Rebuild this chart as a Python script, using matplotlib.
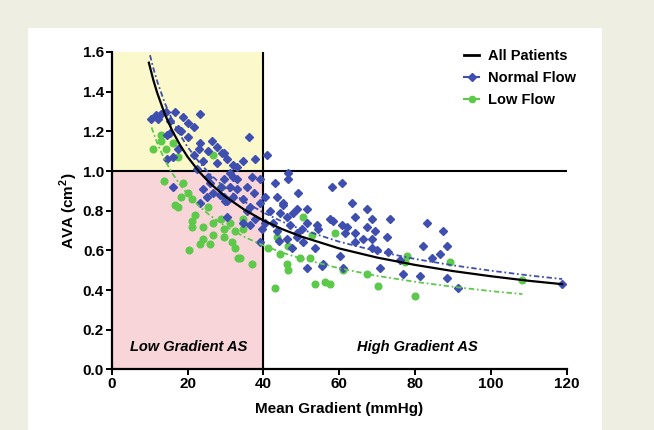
import matplotlib
matplotlib.use("Agg")
import matplotlib.pyplot as plt
from matplotlib.lines import Line2D
from matplotlib.patches import Rectangle

plt.rcParams["font.family"] = ["Liberation Sans", "DejaVu Sans"]
plt.rcParams["mathtext.fontset"] = "custom"
plt.rcParams["mathtext.rm"] = "Liberation Sans:bold"
plt.rcParams["mathtext.bf"] = "Liberation Sans:bold"

# scatter data (mean gradient mmHg, AVA cm2)
normal_mg = [10.3, 11.6, 12.9, 12.1, 14.2, 16.8, 23.4, 18.9, 20.0, 15.5, 17.4, 21.6, 18.2, 15.5, 14.7,
             20.0, 23.4, 22.9, 17.4, 27.9, 16.1, 14.7, 21.6, 25.3, 29.5, 30.5, 27.9, 24.2, 32.1, 22.6,
             25.3, 29.5, 32.1, 16.1, 24.2, 28.7, 31.3, 26.8, 29.5, 32.1, 30.5, 23.4,
             26.5, 29.1, 33.0, 31.2, 26.0, 33.0, 28.6, 25.1, 33.0, 30.5, 30.0,
             36.1, 34.7, 37.9, 41.0, 46.6, 46.6, 43.2, 49.2, 58.2, 37.1, 39.2, 35.8, 37.4, 40.5, 43.7,
             45.3, 34.7,
             39.2, 36.6, 45.3, 48.9, 51.6, 41.8, 46.3, 37.9, 34.7, 40.5, 58.4, 50.3, 54.5, 43.7, 48.9,
             39.7, 46.3, 50.5, 53.7, 47.6, 39.2, 51.6, 55.5,
             35.7, 44.4, 47.9, 36.5, 42.5, 47.0, 51.5, 54.2, 57.6, 44.0, 48.9,
             60.8, 63.4, 64.2, 67.4, 68.7, 73.4, 60.8, 62.1, 67.4, 69.5, 61.6, 64.2, 66.3, 64.2, 68.7,
             72.6, 83.2, 87.4, 88.4, 82.1, 68.7, 70.0, 72.9, 86.6, 84.5, 76.0, 60.3, 70.8, 76.8, 81.3,
             88.4, 91.3, 55.8, 61.0, 118.8]
normal_ava = [1.26, 1.28, 1.29, 1.26, 1.30, 1.30, 1.29, 1.27, 1.24, 1.25, 1.21, 1.22, 1.20, 1.19, 1.18,
              1.17, 1.14, 1.11, 1.11, 1.12, 1.07, 1.06, 1.08, 1.10, 1.09, 1.06, 1.04, 1.05, 1.03, 1.01,
              0.97, 0.96, 0.97, 0.92, 0.91, 0.92, 0.92, 0.89, 0.87, 0.87, 0.85, 0.84,
              1.15, 1.09, 1.02, 0.99, 0.94, 0.96, 0.88, 0.87, 0.91, 0.77, 0.85,
              1.17, 1.05, 1.06, 1.08, 0.99, 0.96, 0.94, 0.89, 0.92, 0.97, 0.96, 0.92, 0.89, 0.87, 0.87,
              0.84, 0.86,
              0.84, 0.82, 0.83, 0.81, 0.81, 0.80, 0.77, 0.76, 0.74, 0.74, 0.75, 0.71, 0.71, 0.70, 0.69,
              0.71, 0.66, 0.64, 0.61, 0.61, 0.64, 0.51, 0.52,
              0.80, 0.79, 0.79, 0.73, 0.74, 0.73, 0.74, 0.73, 0.76, 0.65, 0.67,
              0.94, 0.84, 0.77, 0.81, 0.76, 0.76, 0.73, 0.72, 0.72, 0.70, 0.69, 0.69, 0.66, 0.64, 0.66,
              0.67, 0.74, 0.70, 0.62, 0.62, 0.61, 0.60, 0.59, 0.58, 0.56, 0.55, 0.57, 0.51, 0.48, 0.47,
              0.46, 0.41, 0.53, 0.51, 0.43]

low_mg = [10.8, 12.9, 12.9, 14.2, 16.1, 17.4, 26.6, 13.7, 18.9, 28.7, 18.2, 20.0, 21.3, 16.8,
          17.4, 25.5, 22.1, 28.7, 21.3, 26.6, 31.3, 21.3, 24.2, 29.5, 32.6, 26.6, 29.5, 24.2, 23.4,
          26.0, 31.8, 32.6, 20.3, 33.4,
          34.7, 34.7, 50.5, 52.9, 43.7, 41.3, 46.6, 44.5, 49.7, 52.4, 46.3, 37.1, 46.6, 53.7, 56.3,
          43.2, 33.9,
          59.0, 57.5, 70.3, 80.0, 89.3, 78.0, 77.4, 67.4, 61.0, 108.3]
low_ava = [1.11, 1.18, 1.15, 1.11, 1.14, 1.07, 1.08, 0.95, 0.94, 0.92, 0.87, 0.89, 0.86, 0.83,
           0.82, 0.82, 0.78, 0.76, 0.75, 0.74, 0.74, 0.72, 0.72, 0.71, 0.70, 0.68, 0.67, 0.66, 0.63,
           0.63, 0.64, 0.61, 0.60, 0.56,
           0.76, 0.71, 0.77, 0.68, 0.67, 0.61, 0.62, 0.58, 0.56, 0.56, 0.53, 0.53, 0.50, 0.43, 0.44,
           0.41, 0.56,
           0.69, 0.43, 0.42, 0.37, 0.54, 0.57, 0.54, 0.48, 0.50, 0.45]

# fitted curves
all_fit_x = [9.8, 11, 12, 14, 16, 18, 20, 23, 26, 30, 35, 40, 45, 50, 60, 70, 80, 90, 100, 110, 118.8]
all_fit_y = [1.546, 1.457, 1.394, 1.287, 1.202, 1.132, 1.072, 0.998, 0.937, 0.871, 0.805, 0.751,
             0.707, 0.670, 0.610, 0.564, 0.527, 0.496, 0.470, 0.447, 0.430]
normal_fit_x = [10.1, 11, 12, 14, 16, 18, 20, 23, 26, 30, 35, 40, 45, 50, 60, 70, 80, 90, 100, 110, 118.8]
normal_fit_y = [1.584, 1.517, 1.452, 1.343, 1.256, 1.183, 1.122, 1.046, 0.983, 0.914, 0.846, 0.791,
                0.745, 0.706, 0.644, 0.596, 0.557, 0.525, 0.498, 0.474, 0.456]
low_fit_x = [10.5, 12, 14, 16, 18, 20, 23, 26, 30, 35, 40, 45, 50, 60, 70, 80, 90, 100, 108.3]
low_fit_y = [1.220, 1.141, 1.056, 0.988, 0.932, 0.884, 0.824, 0.775, 0.722, 0.668, 0.625, 0.589,
             0.559, 0.510, 0.472, 0.442, 0.417, 0.395, 0.380]

blue = "#3f4fb0"
green = "#5dc94a"

fig = plt.figure(figsize=(6.54, 4.30), dpi=100)
fig.patch.set_facecolor("#efeee3")
panel = Rectangle((28 / 654, 0), 574 / 654, 402 / 430, transform=fig.transFigure,
                  facecolor="white", edgecolor="none", zorder=-5)
fig.add_artist(panel)

ax = fig.add_axes([0.1708, 0.1407, 0.6957, 0.7384])
ax.set_zorder(2)
ax.set_facecolor("none")
ax.set_xlim(0, 120)
ax.set_ylim(0, 1.6)

# gradient/area regions
ax.axvspan(0, 40, ymin=1.0 / 1.6, ymax=1, color="#fbf9cc", zorder=0)
ax.axvspan(0, 40, ymin=0, ymax=1.0 / 1.6, color="#f8d5d9", zorder=0)
ax.axhline(1.0, color="black", lw=1.5, zorder=1)
ax.axvline(40, color="black", lw=1.5, zorder=1)

ax.plot(normal_mg, normal_ava, "D", color=blue, ms=4.5, mec=blue, zorder=3, ls="none")
ax.plot(low_mg, low_ava, "o", color=green, ms=4.8, mec=green, zorder=2, ls="none")

ax.plot(normal_fit_x, normal_fit_y, color=blue, lw=1.3, dashes=(3, 1.5, 1, 1.5), zorder=4)
ax.plot(low_fit_x, low_fit_y, color=green, lw=1.3, dashes=(3, 1.5, 1, 1.5), zorder=4)
ax.plot(all_fit_x, all_fit_y, color="black", lw=1.6, zorder=5)

ax.text(20.4, 0.115, "Low Gradient AS", ha="center", va="center", fontsize=10.5,
        fontweight="bold", style="italic", zorder=6)
ax.text(80.6, 0.115, "High Gradient AS", ha="center", va="center", fontsize=10.5,
        fontweight="bold", style="italic", zorder=6)

ax.set_xticks([0, 20, 40, 60, 80, 100, 120])
ax.set_yticks([0.0, 0.2, 0.4, 0.6, 0.8, 1.0, 1.2, 1.4, 1.6])
ax.set_yticklabels(["0.0", "0.2", "0.4", "0.6", "0.8", "1.0", "1.2", "1.4", "1.6"])
for s in ["top", "right"]:
    ax.spines[s].set_visible(False)
for s in ["left", "bottom"]:
    ax.spines[s].set_linewidth(1.6)
    ax.spines[s].set_zorder(7)
ax.tick_params(width=1.4, length=4, labelsize=11, pad=1.5)
for lab in ax.get_xticklabels() + ax.get_yticklabels():
    lab.set_fontweight("bold")

ax.set_xlabel("Mean Gradient (mmHg)", fontsize=11, fontweight="bold", labelpad=8)
ax.set_ylabel(r"AVA (cm$^{2}$)", fontsize=11, fontweight="bold", labelpad=2)

handles = [
    Line2D([], [], color="black", lw=2),
    Line2D([], [], color=blue, lw=1.5, marker="D", ms=4),
    Line2D([], [], color=green, lw=1.5, marker="o", ms=4.5),
]
leg = ax.legend(handles, ["All Patients", "Normal Flow", "Low Flow"], loc="upper left",
                bbox_to_anchor=(0.690, 0.917), bbox_transform=fig.transFigure, frameon=False,
                handlelength=1.0, handletextpad=0.6, labelspacing=0.55,
                prop={"weight": "bold", "size": 10.5})

fig.savefig("out.png", dpi=100, facecolor=fig.get_facecolor())
